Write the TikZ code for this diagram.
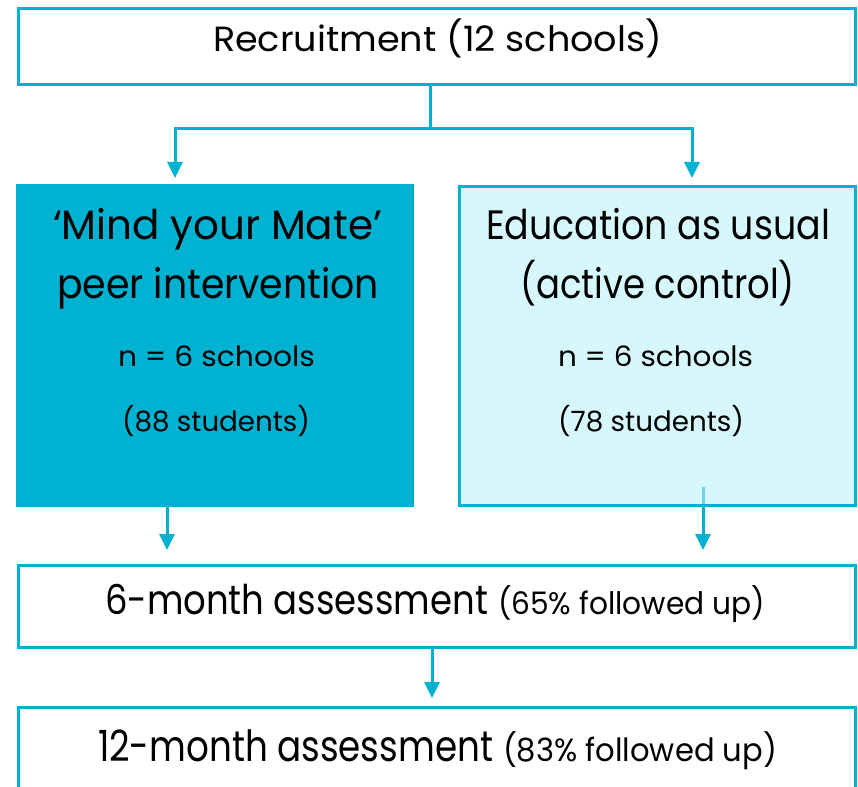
\documentclass[tikz,border=0pt]{standalone}
\usepackage{fontspec}
\setmainfont{Poppins}
\usetikzlibrary{arrows.meta,calc}
\definecolor{mmcyan}{RGB}{0,178,209}
\definecolor{mmlight}{RGB}{214,247,252}
\definecolor{mmmid}{RGB}{110,210,230}
\newcommand{\fitx}[3]{\resizebox{#1}{\height}{\fontsize{#2}{#2}\selectfont #3}}
\begin{document}
\begin{tikzpicture}[x=1pt,y=-1pt,
  box/.style={draw=mmcyan, line width=3pt, rectangle, inner sep=0pt, outer sep=0pt},
  lbl/.style={anchor=base west, inner sep=0pt, outer sep=0pt, text=black},
  ln/.style={draw=mmcyan, line width=3pt},
  arr/.style={ln, -{Triangle[width=15pt,length=16pt]}}]
\useasboundingbox (0,0) rectangle (858,786);
\clip (0,0) rectangle (858,786);
% boxes
\node[box, minimum width=837pt, minimum height=76pt] (rec) at (437,46.5) {};
\node[box, fill=mmcyan, line width=0pt, minimum width=397pt, minimum height=321.5pt] (mym) at (214.5,345.75) {};
\node[box, fill=mmlight, minimum width=396pt, minimum height=319pt] (eau) at (657.5,346) {};
\node[box, minimum width=837pt, minimum height=82pt] (six) at (437,606.4) {};
\node[box, minimum width=837pt, minimum height=130pt] (twl) at (437,772.5) {};
% connectors
\coordinate (stemtop) at ($(rec.south)+(-7,0)$);
\coordinate (split) at ($(stemtop)+(0,44)$);
\coordinate (tipL) at (175,178);
\coordinate (tipR) at (692,178);
\draw[ln] (stemtop) -- (split);
\draw[arr] (split) -| (tipL);
\draw[arr] (split) -| (tipR);
\coordinate (lo) at ($(mym.south)+(-47.5,0)$);
\draw[arr, shorten >=15.4pt] (lo) -- (lo |- six.north);
\coordinate (ri) at (703,487);
\draw[arr, shorten >=15.4pt] (ri) -- (ri |- six.north);
\draw[line width=3pt, mmmid] (ri) -- ($(ri |- eau.south)+(0,-1.5)$);
\coordinate (mid) at ($(six.south)+(-5,0)$);
\draw[arr, shorten >=9.5pt] (mid) -- (mid |- twl.north);
% texts
\node[lbl] (t1) at (213,52) {\fitx{449pt}{35}{Recruitment (12 schools)}};
\node[lbl] (m1) at (53,239) {\fitx{329pt}{41}{‘Mind your Mate’}};
\node[lbl] (m2) at (57,298) {\fitx{322pt}{41}{peer intervention}};
\node[lbl] (m3) at (118,366.5) {\fitx{197pt}{28}{n = 6 schools}};
\node[lbl] (m4) at (122,431) {\fitx{188pt}{28}{(88 students)}};
\node[lbl] (e1) at (486,239.6) {\fitx{344pt}{41}{Education as usual}};
\node[lbl] (e2) at (520,298) {\fitx{275pt}{41}{(active control)}};
\node[lbl] (e3) at (558,366.5) {\fitx{195pt}{28}{n = 6 schools}};
\node[lbl] (e4) at (558,431) {\fitx{186pt}{28}{(78 students)}};
\node[lbl] (s1) at (105,614) {\fitx{383pt}{41}{6-month assessment}\hspace{10pt}\fitx{267pt}{31}{(65\% followed up)}};
\node[lbl] (w1) at (98,761) {\fitx{395pt}{43}{12-month assessment}\hspace{10pt}\fitx{274pt}{32}{(83\% followed up)}};
\end{tikzpicture}
\end{document}
